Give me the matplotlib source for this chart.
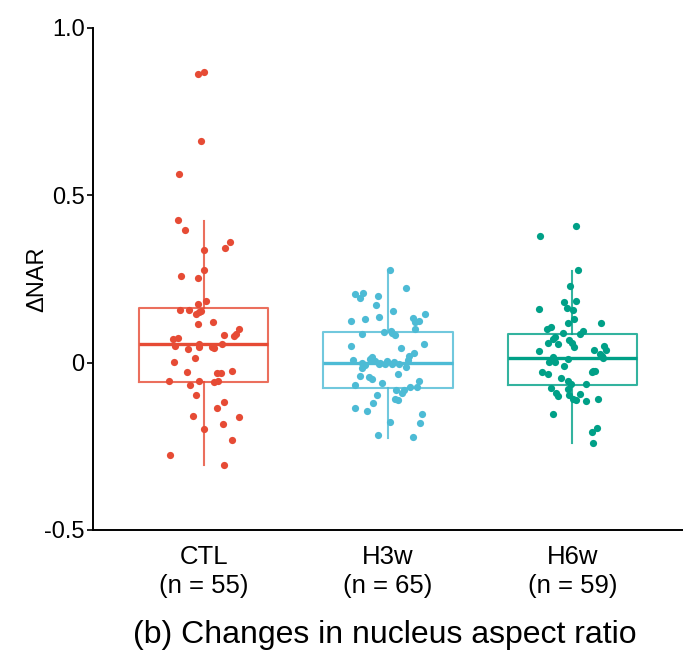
import matplotlib
matplotlib.use('Agg')
import matplotlib.pyplot as plt
import numpy as np

plt.rcParams['font.family'] = ['Liberation Sans', 'DejaVu Sans']

groups = ['CTL', 'H3w', 'H6w']
counts = [55, 65, 59]
colors = ['#E64B35', '#4DBBD5', '#00A087']

# box stats
medians = [0.057, 0.000, 0.015]
q1 = [-0.057, -0.075, -0.066]
q3 = [0.164, 0.093, 0.087]
whis_lo = [-0.307, -0.224, -0.239]
whis_hi = [0.424, 0.278, 0.275]

# delta NAR values per cell and their horizontal jitter
ctl_vals = [0.862, 0.868, 0.662, 0.565, 0.425, 0.396, 0.361, 0.344, 0.336, 0.278,
            0.260, 0.254, 0.183, 0.175, 0.157, 0.158, 0.155, 0.151, 0.145, 0.122,
            0.116, 0.101, 0.087, 0.079, 0.084, 0.072, 0.075, 0.057, 0.050, 0.047,
            0.056, 0.047, 0.043, 0.040, 0.015, 0.003, -0.027, -0.024, -0.030, -0.032,
            -0.056, -0.054, -0.057, -0.055, -0.068, -0.097, -0.118, -0.136, -0.158, -0.161,
            -0.183, -0.198, -0.231, -0.275, -0.307]
ctl_jit = [-0.031, 0.002, -0.016, -0.134, -0.137, -0.101, 0.145, 0.115, 0.000, 0.004,
           -0.123, -0.033, 0.011, -0.029, -0.130, -0.081, -0.015, -0.025, -0.040, 0.049,
           -0.029, 0.191, 0.175, 0.164, 0.108, -0.168, -0.141, -0.025, -0.157, -0.023,
           0.101, 0.047, 0.058, -0.083, -0.045, -0.163, -0.091, 0.153, 0.072, 0.094,
           -0.190, -0.023, 0.054, 0.078, -0.072, -0.040, 0.112, 0.070, -0.058, 0.193,
           0.103, 0.002, 0.153, -0.180, 0.112]

h3w_vals = [0.278, 0.224, 0.204, 0.208, 0.192, 0.198, 0.172, 0.154, 0.146, 0.125,
            0.131, 0.136, 0.133, 0.122, 0.125, 0.100, 0.086, 0.092, 0.096, 0.088,
            0.082, 0.051, 0.055, 0.044, 0.030, 0.021, 0.018, 0.007, 0.000, 0.006,
            0.000, 0.005, -0.004, -0.004, -0.004, 0.008, -0.008, -0.015, -0.005, -0.013,
            -0.039, -0.043, -0.050, -0.035, -0.068, -0.062, -0.055, -0.073, -0.073, -0.081,
            -0.082, -0.090, -0.096, -0.108, -0.111, -0.120, -0.135, -0.144, -0.154, -0.176,
            -0.181, -0.216, -0.222, 0.002, 0.010]
h3w_jit = [0.013, 0.098, -0.179, -0.133, -0.153, -0.054, -0.063, 0.025, 0.201, -0.198,
           -0.126, -0.047, 0.134, 0.149, 0.168, 0.145, -0.139, -0.020, 0.016, 0.024,
           0.038, -0.198, 0.197, 0.069, 0.141, 0.116, -0.088, -0.190, -0.143, -0.068,
           -0.045, -0.005, -0.014, 0.024, 0.062, 0.108, -0.125, -0.143, -0.047, 0.096,
           -0.153, -0.103, -0.085, 0.056, -0.179, -0.030, 0.166, 0.159, 0.119, 0.046,
           0.087, 0.074, -0.061, 0.036, 0.053, -0.079, -0.177, -0.115, 0.186, 0.013,
           0.176, -0.052, 0.134, 0.030, -0.100]

h6w_vals = [0.409, 0.379, 0.276, 0.230, 0.181, 0.185, 0.161, 0.163, 0.157, 0.131,
            0.118, 0.118, 0.107, 0.101, 0.088, 0.086, 0.076, 0.070, 0.060, 0.056,
            0.067, 0.060, 0.046, 0.051, 0.039, 0.039, 0.035, 0.026, 0.020, 0.013,
            0.017, 0.011, 0.002, 0.002, -0.009, -0.029, -0.034, -0.029, -0.024, -0.024,
            -0.055, -0.065, -0.079, -0.065, -0.076, -0.091, -0.099, -0.097, -0.093, -0.108,
            -0.111, -0.114, -0.109, -0.153, -0.194, -0.208, -0.239, 0.095, -0.045]
h6w_jit = [0.022, -0.177, 0.030, -0.015, -0.046, 0.020, -0.181, -0.027, 0.003, 0.009,
           -0.025, 0.153, -0.116, -0.136, -0.051, 0.040, -0.092, -0.107, -0.134, -0.076,
           -0.018, -0.002, 0.011, 0.170, 0.119, 0.180, -0.181, 0.152, 0.159, 0.166,
           -0.103, -0.025, -0.128, -0.092, -0.046, -0.165, -0.134, 0.106, 0.114, 0.122,
           -0.024, -0.009, -0.024, 0.074, -0.118, -0.089, -0.076, -0.018, 0.043, 0.003,
           0.022, 0.074, 0.137, -0.103, 0.132, 0.106, 0.110, 0.060, -0.060]

values = [ctl_vals, h3w_vals, h6w_vals]
jitters = [ctl_jit, h3w_jit, h6w_jit]

fig = plt.figure(figsize=(6.83, 6.53), dpi=100)
ax = fig.add_axes([93 / 683, 123 / 653, 590 / 683, 502 / 653])

positions = np.arange(1, len(groups) + 1)
for i, (pos, col) in enumerate(zip(positions, colors)):
    stats = [{'med': medians[i], 'q1': q1[i], 'q3': q3[i],
              'whislo': whis_lo[i], 'whishi': whis_hi[i], 'fliers': []}]
    ax.bxp(stats, positions=[pos], widths=0.7, showcaps=False, showfliers=False,
           boxprops=dict(color=col, linewidth=1.5, alpha=0.8),
           whiskerprops=dict(color=col, linewidth=1.5, alpha=0.8),
           medianprops=dict(color=col, linewidth=2.4),
           manage_ticks=False)
    ax.scatter(pos + np.array(jitters[i]), values[i], s=27, color=col,
               linewidths=0, zorder=3)

ax.set_xlim(0.4, 3.6)
ax.set_ylim(-0.5, 1.0)
ax.set_yticks([-0.5, 0, 0.5, 1.0])
ax.set_yticklabels(['-0.5', '0', '0.5', '1.0'])
ax.set_xticks(positions)
ax.set_xticklabels([f'{g}\n(n = {n})' for g, n in zip(groups, counts)],
                   linespacing=1.25)
ax.tick_params(axis='y', labelsize=17, length=4, width=1.2, pad=2)
ax.tick_params(axis='x', labelsize=18.5, length=0, pad=11)
ax.set_ylabel('ΔNAR', fontsize=17, labelpad=-3)

for side in ['top', 'right']:
    ax.spines[side].set_visible(False)
for side in ['left', 'bottom']:
    ax.spines[side].set_linewidth(1.4)

fig.text(385 / 683, 18 / 653, '(b) Changes in nucleus aspect ratio',
         ha='center', va='center', fontsize=23)

fig.savefig('out.png', dpi=100)
